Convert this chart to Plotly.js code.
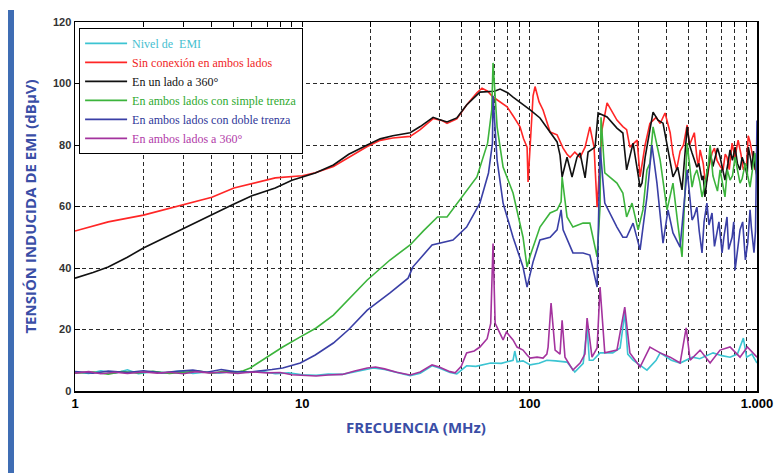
<!DOCTYPE html>
<html>
<head>
<meta charset="utf-8">
<script src="https://cdn.plot.ly/plotly-3.0.1.min.js"></script>
<style>
  html, body { margin: 0; padding: 0; background: #fff; }
  #chart { position: absolute; left: 0; top: 0; width: 776px; height: 473px; }
  #bar { position: absolute; left: 8px; top: 10px; width: 6px; height: 463px; background: #3f6db4; }
</style>
</head>
<body>
<div id="chart"></div>
<div id="bar"></div>
<script>
// ---- Data (frequency in MHz, level in dBµV) ----
const seriesNames = [
  'Nivel de  EMI',
  'Sin conexión en ambos lados',
  'En un lado a 360°',
  'En ambos lados con simple trenza',
  'En ambos lados con doble trenza',
  'En ambos lados a 360°'
];

const fCyn = [1,1.15,1.3,1.5,1.7,1.9,2.2,2.5,2.9,3.3,3.8,4.3,5,5.8,6.6,7.6,8.7,10,11.5,13,15,17,19.3,20.5,23,26,29.8,33,37.2,40,44.6,47.8,52.8,58,67.4,75,80,84.5,86,88,93.5,100.5,110,119,130,146,158,172,178.9,183,190,204,232,250,262,270,285,328,360,375,420,459,520,560,641,700,761,820,871,900,950,1000];
const vCyn = [6.2,5.7,6.6,5.8,6.9,5.6,6.3,5.9,6.5,5.7,6.2,5.8,6.4,6.0,6.4,5.6,5.9,5.3,5.1,5.5,5.4,6.3,7.2,7.5,7.0,6.0,5.0,5.8,8.2,7.5,6.0,5.6,8.2,8.0,9.1,9.0,9.5,10,13,9.5,9.8,8.5,9.0,10,9.8,9.4,6.2,9,20.8,10,10,12.4,12.4,14,25.4,12,10,6.8,10,12.4,10,9.1,11,10.5,12.4,11.5,11,12,17.2,11,12,9.1];

const fRed = [1,1.4,2,3,4,5,7.6,10,11.4,13.7,16,19.3,22,25,29.8,33,37.6,41,43.3,47.8,52.8,58.6,61.7,65.3,69,74,79.6,84.5,90.7,94,97.4,98.4,100.5,103.5,105.6,110,114.5,123,132,140.3,146,150.6,158,166.6,175.3,184,192,198,204,208,219,230,242,257,267,276,297,306,322,338,360,375,394,415,427,443,459,475,493,505,518,530,544,553,562,580,590,602,615,634,650,667,690,709,725,738,755,777,800,826,850,871,900,915,932,961,980,1000];
const vRed = [52,55,57.2,60.5,63,66,69.3,70,71,73,76,79.5,81.5,82.3,82.8,85,88.6,88,87,88.5,93,97,98.5,97.5,95.6,94,92.4,89.5,85.9,82,79.3,68,80,96,99,94,91.4,84.2,83.3,79,77,76,77.7,76,79.3,85.9,79.3,59.8,75,84.9,93.7,91,88.1,86,85,79.3,81.6,69.6,80,87,89,87,90.4,84,77,72,78,80,86.5,80,82,84,76,73,78.4,74,69,68.6,73,77.4,79,75,73,71.9,77,76,72,80.6,76,81.6,77,71.9,74,83,81,76,71.9,74];

const fBlk = [1,1.2,1.4,1.7,2,2.5,3,4,4.9,6,7.6,9,11.4,13.7,16,19.3,22,25,29.8,33,37.6,40,43.3,47.8,52.8,60.4,65.3,70,74.1,80,84.5,90.7,100.5,111,123,132,136,138.9,146,153.6,161.5,166.6,175.3,180.7,194,200,219,242,257,267,285,297,306,312,322,338,349,367,386,406,427,448,468,493,505,518,530,544,555,573,580,590,605,622,640,654,670,688,705,723,745,761,780,801,820,842,860,889,905,916,940,951,965,980,1000];
const vBlk = [36.7,38.5,40.3,43.5,46.5,50,53,57.5,60.5,63.5,66,68.5,70.9,73.5,77,80,82,83,84,86,89,88.3,87.5,88.8,93,97.2,97.3,97.5,98.2,97,95.6,94,91.4,88.8,84,81,76.7,69.6,76,69.6,76,77.4,69.3,77.7,79.3,90.4,89.1,85.5,83.9,71.9,80.6,72.8,66.3,67.6,76,84.9,90.7,88.1,87.1,78.4,69.6,72.8,65.4,85.9,80,77.4,75,72.8,74,68.6,70,63.1,70,77.4,73,76.1,79,76.1,72,68.6,74,78.4,75,79.3,74,71.9,76,72.8,70,79.3,75,71.9,78,72.8,70];

const fGrn = [1,1.2,1.4,1.6,1.9,2.2,2.6,3,3.5,4,4.5,5,5.5,5.9,7,8.2,9.8,11.5,13.7,16,19.3,24.3,29.8,34,39.3,43.3,49.4,58.6,65.3,68.1,69,71.9,76.4,84.5,93.5,97.4,100.5,111,123,132,137.5,138.9,146,155,171.7,184,198,204,206,214,242,257,267,282,300,315,328,338,349,375,402,427,448,468,493,505,518,530,544,560,573,585,602,612,622,640,654,670,688,705,723,740,761,780,801,820,842,860,889,910,932,955,980,1000];
const vGrn = [5.8,6.2,5.5,6.3,5.9,6.4,5.7,6.2,6.5,5.8,6.4,6,6.6,7.5,11,14.3,17.6,20.5,24.7,30,36.1,42.6,47.5,52,56.6,56.6,62.1,69.6,80.6,91.4,106.7,85.9,72.8,64.4,50,40.3,44,53.3,57.9,58.9,61.5,69.6,56.6,53.3,54.6,54.6,43.6,60,89,70.9,67.6,64.4,56.6,61.1,52.4,58.9,71.9,74,85.9,75.1,58.9,67.6,54.6,43.6,80.6,73,66.3,70,71.9,68,63.1,66,71.9,74,80,70,67.6,65,71.9,68,63.1,72,68.6,70,76.1,72,67.6,69,74.1,70,66.3,72,77.4,68];

const fBlu = [1,1.2,1.4,1.7,2,2.4,2.8,3.3,3.8,4.4,5,5.9,7.35,8.2,9.8,11.4,13.7,16,19.3,24.3,29.2,30.6,37.2,46,52.8,60.4,65.9,68.6,69,71.9,76.4,84.5,93.5,97.4,103.5,111,123,132,137.5,140.3,155,171.7,184,198,204,214,242,257,267,285,306,328,345,363,386,406,427,459,493,505,518,530,544,557,573,585,602,615,634,650,667,680,702,715,738,750,777,790,801,820,842,865,889,910,932,945,961,970,985,1000];
const vBlu = [6.3,5.8,6.5,6.0,6.6,5.9,6.4,6.8,6.1,7.0,6.3,6.2,7,7.5,9.1,11.7,15.6,20,26.3,31.9,36.7,40.3,47.5,49.1,53.3,61.1,70.9,80.6,96,75.1,61.1,50,40.3,33.8,42,49.1,50,52.4,58.9,52.4,44.9,44.9,44.2,33.8,79.3,61.1,53.3,50,50,54.6,45.9,63.1,80,67.6,48.1,58.9,51.4,46.8,71.9,63,55.6,57,59.8,52,44.9,55,61.1,54,57.9,47,52.4,55,44.9,50,56.6,46,50,55,39.3,45,52.4,55,42.6,48,58.9,53,48.1,45,52,88];

const fMag = [1,1.15,1.3,1.5,1.7,2,2.3,2.6,3,3.4,3.9,4.5,5.2,6,7,8,9,10,11.5,13,15,17,19.3,21,23,26,29.8,33,37.2,40,44.6,47,50,52.8,57,60.4,65,67.4,69,70.5,76.4,79,84.5,88,93.5,97.4,100.5,107.8,114.5,119,120.5,124.2,129.4,136,138.9,143,155,166.6,175,178.9,188,198,204,214,242,262,276,306,338,375,415,459,488,508,562,622,688,761,842,907,1000];
const vMag = [5.8,6.3,5.6,6.1,5.7,6.2,5.8,6.1,5.6,6.3,5.9,6.1,5.7,6.2,5.9,6.0,5.3,5.1,4.9,5.2,5.4,6.5,7.5,7.8,7.2,6.1,5.2,6.2,8.5,7.8,6.3,5.9,8,12.4,13,14.3,17,22,48,22,16.6,19.2,16.6,14.3,13.3,11.7,10.7,11,10.7,12,14.3,28.6,13.3,12,23,11,6.8,9.1,12,23.7,11,14,33.8,12.4,13.3,27.3,12.4,7.8,14.3,12.4,11,9.1,20.5,10,13.3,9.1,13.3,14.3,11,14.3,11];

const colors = ['#3cc4d2', '#ff2626', '#111111', '#3cb43c', '#3a3fa6', '#a4339e'];
const legendTextColors = ['#46c0d0', '#f01e1e', '#111111', '#2faa2f', '#2f3899', '#b13aa8'];

const xTickVals = [1,2,3,4,5,6,7,8,9,10,20,30,40,50,60,70,80,90,100,200,300,400,500,600,700,800,900,1000];
const xTickText = ['1','','','','','','','','','10','','','','','','','','','100','','','','','','','','','1.000'];
const yTickVals = [0,20,40,60,80,100,120];

const xs = [fCyn, fRed, fBlk, fGrn, fBlu, fMag];
const ys = [vCyn, vRed, vBlk, vGrn, vBlu, vMag];

const traces = xs.map((x, i) => ({
  type: 'scatter',
  mode: 'lines',
  x: x,
  y: ys[i],
  name: '<span style="color:' + legendTextColors[i] + '">' + seriesNames[i] + '</span>',
  line: { color: colors[i], width: 1.6 },
  hoverinfo: 'skip'
}));

const layout = {
  width: 776,
  height: 473,
  margin: { l: 75, r: 19, t: 22, b: 82 },
  paper_bgcolor: '#ffffff',
  plot_bgcolor: '#ffffff',
  showlegend: true,
  legend: {
    x: 0.006, y: 0.984, xanchor: 'left', yanchor: 'top',
    bgcolor: '#ffffff',
    bordercolor: '#000000',
    borderwidth: 1,
    itemwidth: 42,
    font: { family: 'Liberation Serif, serif', size: 12 },
    tracegroupgap: 0
  },
  xaxis: {
    type: 'log',
    range: [0, 3],
    tickmode: 'array',
    tickvals: xTickVals,
    ticktext: xTickText,
    ticks: 'inside',
    ticklen: 5,
    tickcolor: '#000',
    showline: true,
    linecolor: '#000',
    linewidth: 1.5,
    mirror: 'ticks',
    showgrid: true,
    gridcolor: '#2a2a2a',
    griddash: '4px,3px',
    gridwidth: 1,
    zeroline: false,
    tickfont: { family: 'Liberation Sans, Arial, sans-serif', size: 13, color: '#000', weight: 'bold' },
    title: {
      text: 'FRECUENCIA (MHz)',
      font: { family: 'Open Sans, sans-serif', size: 15, color: '#3a4ea6', weight: 'bold' },
      standoff: 12
    }
  },
  yaxis: {
    range: [0, 120],
    tickmode: 'array',
    tickvals: yTickVals,
    ticks: 'inside',
    ticklen: 5,
    tickcolor: '#000',
    showline: true,
    linecolor: '#000',
    linewidth: 1.5,
    mirror: 'ticks',
    showgrid: true,
    gridcolor: '#2a2a2a',
    griddash: '4px,3px',
    gridwidth: 1,
    zeroline: false,
    tickfont: { family: 'Liberation Sans, Arial, sans-serif', size: 11, color: '#333', weight: 'bold' },
    title: {
      text: 'TENSIÓN INDUCIDA DE EMI (dBµV)',
      font: { family: 'Open Sans, sans-serif', size: 15, color: '#3a4ea6', weight: 'bold' },
      standoff: 12
    }
  }
};

Plotly.newPlot('chart', traces, layout, { staticPlot: true, displayModeBar: false });
</script>
</body>
</html>
